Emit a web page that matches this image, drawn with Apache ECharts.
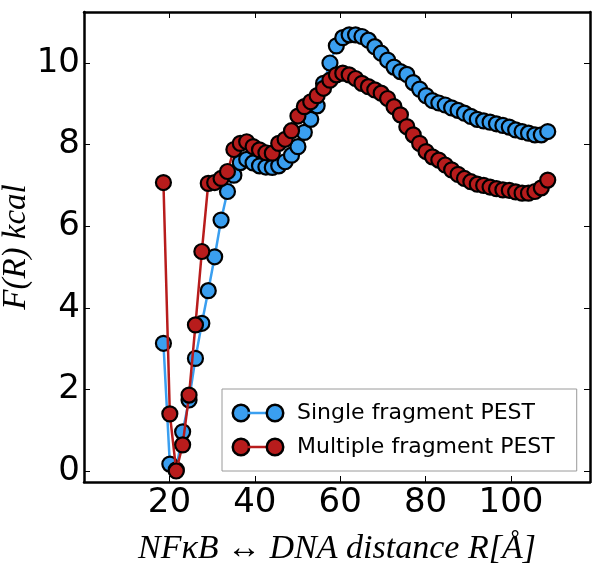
<!DOCTYPE html>
<html>
<head>
<meta charset="utf-8">
<script src="https://cdn.jsdelivr.net/npm/echarts@6/dist/echarts.min.js"></script>
<style>
html,body{margin:0;padding:0;background:#fff;}
#chart{width:602px;height:573px;}
</style>
</head>
<body>
<div id="chart"></div>
<script>
// Distance R [Å]
const distance = [18.6, 20.1, 21.6, 23.1, 24.6, 26.1, 27.6, 29.1, 30.6, 32.1,
  33.6, 35.1, 36.6, 38.1, 39.6, 41.1, 42.6, 44.1, 45.6, 47.1,
  48.6, 50.1, 51.6, 53.1, 54.6, 56.1, 57.6, 59.1, 60.6, 62.1,
  63.6, 65.1, 66.6, 68.1, 69.6, 71.1, 72.6, 74.1, 75.6, 77.1,
  78.6, 80.1, 81.6, 83.1, 84.6, 86.1, 87.6, 89.1, 90.6, 92.1,
  93.6, 95.1, 96.6, 98.1, 99.6, 101.1, 102.6, 104.1, 105.6, 107.1, 108.6];
// Single fragment PEST F(R) kcal
const singleFragment = [3.13, 0.17, 0.03, 0.96, 1.74, 2.76, 3.62, 4.42, 5.25, 6.15,
  6.85, 7.25, 7.56, 7.64, 7.55, 7.48, 7.45, 7.44, 7.48, 7.58,
  7.74, 7.95, 8.30, 8.62, 8.95, 9.50, 10.00, 10.42, 10.62, 10.69,
  10.69, 10.65, 10.56, 10.40, 10.24, 10.07, 9.90, 9.79, 9.72, 9.52,
  9.36, 9.20, 9.08, 9.02, 8.97, 8.90, 8.84, 8.77, 8.69, 8.62,
  8.58, 8.55, 8.51, 8.47, 8.43, 8.36, 8.32, 8.28, 8.24, 8.24, 8.32];
// Multiple fragment PEST F(R) kcal
const multipleFragment = [7.07, 1.40, 0.00, 0.64, 1.86, 3.58, 5.38, 7.05, 7.07, 7.17,
  7.34, 7.88, 8.03, 8.07, 7.95, 7.87, 7.80, 7.79, 8.03, 8.13,
  8.34, 8.70, 8.93, 9.05, 9.20, 9.38, 9.58, 9.71, 9.75, 9.71,
  9.62, 9.50, 9.42, 9.34, 9.26, 9.13, 8.93, 8.73, 8.44, 8.24,
  8.03, 7.83, 7.70, 7.62, 7.50, 7.38, 7.27, 7.17, 7.09, 7.03,
  7.00, 6.96, 6.92, 6.89, 6.88, 6.84, 6.81, 6.81, 6.85, 6.94, 7.13];
const xTicks = [20, 40, 60, 80, 100];
const yTicks = [0, 2, 4, 6, 8, 10];
const seriesNames = ['Single fragment PEST', 'Multiple fragment PEST'];

const BLUE = '#3a9ff0';
const RED = '#b81c1c';

const chart = echarts.init(document.getElementById('chart'), null, {renderer: 'canvas'});

function pairs(xs, ys) { return xs.map((x, i) => [x, ys[i]]); }

const X_MIN = 0, X_MAX = 118.5, Y_MIN = -0.27, Y_MAX = 11.25;
const frameLine = {show: true, onZero: false, lineStyle: {color: '#000', width: 2.5}};
const tickStyle = {color: '#000', width: 1};

const option = {
  animation: false,
  backgroundColor: '#fff',
  grid: {left: 84, right: 12, top: 12, bottom: 91, containLabel: false, outerBoundsMode: 'none'},
  xAxis: [{
    type: 'value', min: X_MIN, max: X_MAX, position: 'bottom',
    name: 'NFκB ↔ DNA distance R[Å]',
    nameLocation: 'middle', nameGap: 50, nameMoveOverlap: false,
    nameTextStyle: {fontFamily: 'Liberation Serif', fontStyle: 'italic', fontSize: 34, color: '#000'},
    axisLine: frameLine,
    axisTick: {show: true, inside: true, length: 6, customValues: xTicks, lineStyle: tickStyle},
    axisLabel: {customValues: xTicks, fontFamily: 'DejaVu Sans', fontSize: 34, color: '#000', margin: 4},
    splitLine: {show: false}
  }, {
    type: 'value', min: X_MIN, max: X_MAX, position: 'top',
    axisLine: frameLine,
    axisTick: {show: true, inside: true, length: 6, customValues: xTicks, lineStyle: tickStyle},
    axisLabel: {show: false},
    splitLine: {show: false}
  }],
  yAxis: [{
    type: 'value', min: Y_MIN, max: Y_MAX, position: 'left',
    name: 'F(R) kcal',
    nameLocation: 'middle', nameGap: 51, nameRotate: 90, nameMoveOverlap: false,
    nameTextStyle: {fontFamily: 'Liberation Serif', fontStyle: 'italic', fontSize: 33, color: '#000'},
    axisLine: frameLine,
    axisTick: {show: true, inside: true, length: 6, customValues: yTicks, lineStyle: tickStyle},
    axisLabel: {customValues: yTicks, fontFamily: 'DejaVu Sans', fontSize: 34, color: '#000', margin: 4},
    splitLine: {show: false}
  }, {
    type: 'value', min: Y_MIN, max: Y_MAX, position: 'right',
    axisLine: frameLine,
    axisTick: {show: true, inside: true, length: 6, customValues: yTicks, lineStyle: tickStyle},
    axisLabel: {show: false},
    splitLine: {show: false}
  }],
  legend: {
    left: 222, top: 389,
    orient: 'vertical',
    backgroundColor: '#fff',
    borderColor: '#9a9a9a', borderWidth: 1, borderRadius: 0,
    padding: [11, 22, 11, 6],
    itemGap: 8,
    itemWidth: 0, itemHeight: 0,
    icon: 'rect',
    itemStyle: {opacity: 0}, lineStyle: {opacity: 0},
    data: seriesNames,
    formatter: function (name) {
      const k = name === seriesNames[0] ? 'b' : 'r';
      return '{' + k + 'c|}{' + k + 'l|}{' + k + 'c|}{t|' + name + '}';
    },
    textStyle: {
      fontFamily: 'DejaVu Sans', fontSize: 22, color: '#000', height: 26, lineHeight: 26,
      rich: {
        bc: {width: 14, height: 14, borderRadius: 8, backgroundColor: BLUE, borderColor: '#000', borderWidth: 2.5},
        bl: {width: 20, height: 2.5, backgroundColor: BLUE},
        rc: {width: 14, height: 14, borderRadius: 8, backgroundColor: RED, borderColor: '#000', borderWidth: 2.5},
        rl: {width: 20, height: 2.5, backgroundColor: RED},
        t: {fontFamily: 'DejaVu Sans', fontSize: 22, color: '#000', padding: [0, 0, 0, 15], lineHeight: 26}
      }
    }
  },
  series: [{
    name: seriesNames[0], type: 'line', xAxisIndex: 0, yAxisIndex: 0,
    data: pairs(distance, singleFragment),
    symbol: 'circle', symbolSize: 15,
    itemStyle: {color: BLUE, borderColor: '#000', borderWidth: 2.2},
    lineStyle: {color: BLUE, width: 2.5},
    z: 2
  }, {
    name: seriesNames[1], type: 'line', xAxisIndex: 0, yAxisIndex: 0,
    data: pairs(distance, multipleFragment),
    symbol: 'circle', symbolSize: 15,
    itemStyle: {color: RED, borderColor: '#000', borderWidth: 2.2},
    lineStyle: {color: RED, width: 2.5},
    z: 3
  }]
};
chart.setOption(option);
</script>
</body>
</html>
